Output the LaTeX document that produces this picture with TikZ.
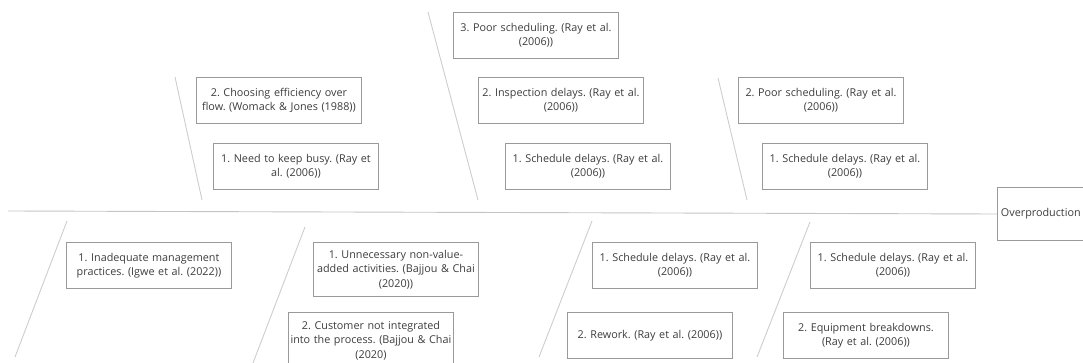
\documentclass[tikz,border=0pt]{standalone}
\usepackage{fontspec}
\setmainfont{Open Sans}
\frenchspacing
\definecolor{spinegray}{HTML}{C4C4C4}
\definecolor{bonegray}{HTML}{CDCDCD}
\definecolor{boxgray}{HTML}{9A9A9A}
\definecolor{textgray}{HTML}{3C3C3C}

\begin{document}
\begin{tikzpicture}
[x=1pt,y=-1pt,
 cause/.style={draw=boxgray,line width=0.9pt,anchor=north west,minimum width=165pt,minimum height=46pt,
   text width=165pt,align=center,inner sep=0pt,text=textgray,font=\fontsize{10.8}{14.5}\selectfont},
 bone/.style={draw=bonegray,line width=0.9pt}]

% the frame of the picture
\useasboundingbox (0,0) rectangle (1083,363);

% the effect
\node[draw=boxgray,line width=0.9pt,anchor=west,text width=100pt,minimum height=53pt,
  inner xsep=3.5pt,align=left,text=textgray,font=\fontsize{10.8}{14.5}\selectfont] (effect) at (997,214) {Overproduction\\[6pt]};

% the coordinates of the bones
\coordinate (S) at (8,211);
\coordinate (T1) at (175,77);   \coordinate (T1e) at (202,200);
\coordinate (T2) at (428,12);   \coordinate (T2e) at (478,200);
\coordinate (T3) at (718,78);   \coordinate (T3e) at (747,200);
\coordinate (B1) at (67,221);   \coordinate (B1e) at (15,357);
\coordinate (B2) at (305,227);  \coordinate (B2e) at (253,363);
\coordinate (B3) at (592,221);  \coordinate (B3e) at (539,357);
\coordinate (B4) at (810,222);  \coordinate (B4e) at (757,357);

% the spine
\draw[draw=spinegray,line width=0.9pt] (S) -- (effect.west);

% the bones
\draw[bone] (T1) -- (T1e);
\draw[bone] (T2) -- (T2e);
\draw[bone] (T3) -- (T3e);
\draw[bone] (B1) -- (B1e);
\draw[bone] (B2) -- (B2e);
\draw[bone] (B3) -- (B3e);
\draw[bone] (B4) -- (B4e);

% the causes above the spine
\node[cause] (t1b) at (196,77) {2. Choosing efficiency over\\flow. (Womack \& Jones (1988))};
\node[cause] (t1a) at (213,143) {1. Need to keep busy. (Ray et\\al. (2006))};
\node[cause] (t2c) at (453,12) {3. Poor scheduling. (Ray et al.\\(2006))};
\node[cause] (t2b) at (478,77) {2. Inspection delays. (Ray et al.\\(2006))};
\node[cause] (t2a) at (505,143) {1. Schedule delays. (Ray et al.\\(2006))};
\node[cause] (t3b) at (738,77) {2. Poor scheduling. (Ray et al.\\(2006))};
\node[cause] (t3a) at (762,143) {1. Schedule delays. (Ray et al.\\(2006))};

% the causes below the spine
\node[cause] (b1a) at (66,242) {1. Inadequate management\\practices. (Igwe et al. (2022))};
\node[cause,minimum height=54pt] (b2a) at (313,242) {1. Unnecessary non-value-\\added activities. (Bajjou \& Chai\\(2020))};
\node[cause,minimum height=56pt] (b2b) at (288,312) {2. Customer not integrated\\into the process. (Bajjou \& Chai\\(2020)};
\node[cause] (b3a) at (592,242) {1. Schedule delays. (Ray et al.\\(2006))};
\node[cause] (b3b) at (567,312) {2. Rework. (Ray et al. (2006))};
\node[cause] (b4a) at (810,242) {1. Schedule delays. (Ray et al.\\(2006))};
\node[cause] (b4b) at (783,312) {2. Equipment breakdowns.\\(Ray et al. (2006))};

\end{tikzpicture}
\end{document}
